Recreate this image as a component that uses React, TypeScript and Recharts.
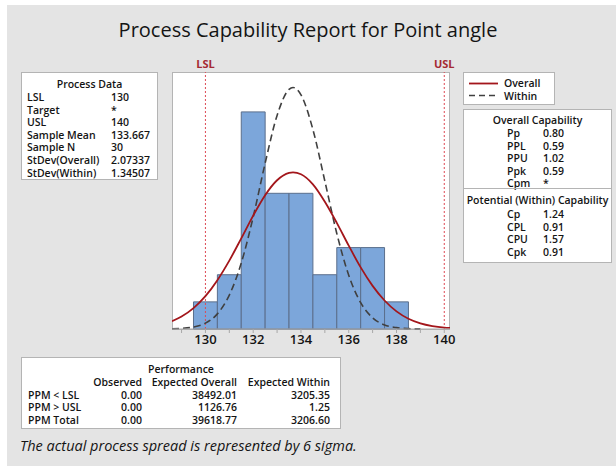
import React from 'react';
import { ComposedChart, Line, XAxis, YAxis, ReferenceArea, ReferenceLine } from 'recharts';

// Histogram bins (centre, count)
const binCenters = [130, 131, 132, 133, 134, 135, 136, 137, 138];
const binCounts = [1, 2, 8, 5, 5, 2, 3, 3, 1];

// Fitted curves (expected counts per bin)
const curveX = [128.6, 129, 129.5, 130, 130.5, 131, 131.5, 132, 132.5, 133, 133.5, 133.667, 134, 134.5, 135, 135.5, 136, 136.5, 137, 137.5, 138, 138.5, 139, 139.5, 140, 140.24];
const overallCurve = [0.29, 0.46, 0.77, 1.21, 1.80, 2.52, 3.34, 4.18, 4.93, 5.48, 5.75, 5.77, 5.70, 5.33, 4.69, 3.91, 3.07, 2.27, 1.59, 1.05, 0.65, 0.38, 0.21, 0.11, 0.054, 0.04];
const withinCurve = [0.007, 0.022, 0.073, 0.217, 0.557, 1.25, 2.43, 4.13, 6.11, 7.87, 8.83, 8.90, 8.63, 7.35, 5.45, 3.52, 1.98, 0.97, 0.41, 0.15, 0.05, 0.014, 0.003, null, null, null];

const xTicks = [129, 130, 131, 132, 133, 134, 135, 136, 137, 138, 139, 140];
const specLimits = [{ name: 'LSL', value: 130 }, { name: 'USL', value: 140 }];

const processLabels = ['LSL', 'Target', 'USL', 'Sample Mean', 'Sample N', 'StDev(Overall)', 'StDev(Within)'];
const processValues = ['130', '*', '140', '133.667', '30', '2.07337', '1.34507'];

const overallCapLabels = ['Pp', 'PPL', 'PPU', 'Ppk', 'Cpm'];
const overallCapValues = ['0.80', '0.59', '1.02', '0.59', '*'];
const withinCapLabels = ['Cp', 'CPL', 'CPU', 'Cpk'];
const withinCapValues = ['1.24', '0.91', '1.57', '0.91'];

const perfColumns = ['Observed', 'Expected Overall', 'Expected Within'];
const perfRows = ['PPM < LSL', 'PPM > USL', 'PPM Total'];
const perfObserved = ['0.00', '0.00', '0.00'];
const perfOverall = ['38492.01', '1126.76', '39618.77'];
const perfWithin = ['3205.35', '1.25', '3206.60'];

const FONT = '"Open Sans", "Noto Sans", sans-serif';
const TXT = '#141414';
const RED = '#a3161b';

const curveData = curveX.map((x, i) => ({ x, overall: overallCurve[i], within: withinCurve[i] }));

const box: React.CSSProperties = {
  position: 'absolute',
  background: '#fff',
  border: '1px solid #b4b4b4',
  boxSizing: 'border-box',
};

const LH = 12.6;
const cell: React.CSSProperties = { position: 'absolute', whiteSpace: 'nowrap', lineHeight: '12px', height: 12 };

export default function App() {
  const lh = LH;
  const fs = 10.5;
  const fw = 600;
  return (
    <div style={{ position: 'absolute', left: 0, top: 0, width: 616, height: 466, background: '#fff', fontFamily: FONT, color: TXT, overflow: 'hidden' }}>
      <div style={{ position: 'absolute', left: 7, top: 5, width: 609, height: 461, background: '#e4e4e4' }} />
      <div style={{ position: 'absolute', left: 0, top: 16, width: 616, textAlign: 'center', fontSize: 20, lineHeight: '28px', fontWeight: 500 }}>
        Process Capability Report for Point angle
      </div>

      {/* plot frame */}
      <div style={{ ...box, left: 172, top: 72, width: 278, height: 258 }} />

      <div style={{ position: 'absolute', left: 0, top: 0 }}>
        <ComposedChart width={616} height={466} data={curveData} margin={{ top: 72, left: 172, right: 166, bottom: 107 }}>
          <XAxis
            type="number"
            dataKey="x"
            domain={[128.6, 140.24]}
            allowDataOverflow
            ticks={xTicks}
            interval={0}
            height={30}
            tickSize={4}
            tickFormatter={(v: number) => (v % 2 === 0 ? String(v) : '')}
            tick={{ fontSize: 13, fill: TXT, fontFamily: FONT, fontWeight: 600 }}
            stroke="#a8a8a8"
          />
          <YAxis hide domain={[0, 9.47]} type="number" />
          {binCenters.map((c, i) => (
            <ReferenceArea
              key={'b' + c}
              x1={c - 0.5}
              x2={c + 0.5}
              y1={0}
              y2={binCounts[i]}
              fill="#7ca6da"
              fillOpacity={1}
              stroke="#5b6f8c"
              strokeWidth={1}
              strokeOpacity={1}
            />
          ))}
          {specLimits.map((s) => (
            <ReferenceLine
              key={s.name}
              x={s.value}
              stroke="#dd4a55"
              strokeWidth={1}
              strokeDasharray="2 2"
              label={{ value: s.name, position: 'top', fill: '#a52a33', fontSize: 11, fontWeight: 700, fontFamily: FONT, offset: 4 }}
            />
          ))}
          <Line type="monotone" dataKey="within" stroke="#404040" strokeWidth={1.6} strokeDasharray="7 4" dot={false} isAnimationActive={false} connectNulls={false} />
          <Line type="monotone" dataKey="overall" stroke={RED} strokeWidth={1.8} dot={false} isAnimationActive={false} />
        </ComposedChart>
      </div>

      {/* Process Data */}
      <div style={{ ...box, left: 21, top: 72, width: 137, height: 108, fontSize: fs, fontWeight: fw }}>
        <div style={{ ...cell, left: 0, top: 5, width: '100%', textAlign: 'center' }}>Process Data</div>
        {processLabels.map((l, i) => (
          <React.Fragment key={l}>
            <span style={{ ...cell, left: 5, top: 18 + i * lh }}>{l}</span>
            <span style={{ ...cell, left: 89, top: 18 + i * lh }}>{processValues[i]}</span>
          </React.Fragment>
        ))}
      </div>

      {/* Legend */}
      <div style={{ ...box, left: 463, top: 72, width: 92, height: 33, fontSize: fs, fontWeight: fw }}>
        <svg width={92} height={33} style={{ position: 'absolute', left: 0, top: 0 }}>
          <line x1={5} x2={34} y1={10.5} y2={10.5} stroke={RED} strokeWidth={1.8} />
          <line x1={5} x2={34} y1={22.5} y2={22.5} stroke="#404040" strokeWidth={1.6} strokeDasharray="6 4" />
        </svg>
        <div style={{ ...cell, left: 40, top: 4 }}>Overall</div>
        <div style={{ ...cell, left: 40, top: 17 }}>Within</div>
      </div>

      {/* Capability */}
      <div style={{ ...box, left: 463, top: 109, width: 149, height: 154, fontSize: fs, fontWeight: fw }}>
        <div style={{ ...cell, left: 0, top: 4, width: '100%', textAlign: 'center' }}>Overall Capability</div>
        {overallCapLabels.map((l, i) => (
          <React.Fragment key={l}>
            <span style={{ ...cell, left: 43, top: 17 + i * lh }}>{l}</span>
            <span style={{ ...cell, left: 79, top: 17 + i * lh }}>{overallCapValues[i]}</span>
          </React.Fragment>
        ))}
        <div style={{ position: 'absolute', left: 0, top: 78, width: '100%', borderTop: '1px solid #b4b4b4' }} />
        <div style={{ ...cell, left: 0, top: 84, width: '100%', textAlign: 'center' }}>Potential (Within) Capability</div>
        {withinCapLabels.map((l, i) => (
          <React.Fragment key={l}>
            <span style={{ ...cell, left: 43, top: 98 + i * lh }}>{l}</span>
            <span style={{ ...cell, left: 79, top: 98 + i * lh }}>{withinCapValues[i]}</span>
          </React.Fragment>
        ))}
      </div>

      {/* Performance */}
      <div style={{ ...box, left: 21, top: 357, width: 320, height: 72, fontSize: fs, fontWeight: fw }}>
        <div style={{ ...cell, left: 0, top: 5, width: '100%', textAlign: 'center' }}>Performance</div>
        <span style={{ ...cell, top: 18, right: 320 - 122 }}>{perfColumns[0]}</span>
        <span style={{ ...cell, top: 18, right: 320 - 217 }}>{perfColumns[1]}</span>
        <span style={{ ...cell, top: 18, right: 320 - 310 }}>{perfColumns[2]}</span>
        {perfRows.map((r, i) => (
          <React.Fragment key={r}>
            <span style={{ ...cell, top: 30.5 + i * lh, left: 6 }}>{r}</span>
            <span style={{ ...cell, top: 30.5 + i * lh, right: 320 - 122 }}>{perfObserved[i]}</span>
            <span style={{ ...cell, top: 30.5 + i * lh, right: 320 - 217 }}>{perfOverall[i]}</span>
            <span style={{ ...cell, top: 30.5 + i * lh, right: 320 - 310 }}>{perfWithin[i]}</span>
          </React.Fragment>
        ))}
      </div>

      <div style={{ position: 'absolute', whiteSpace: 'nowrap', left: 20, top: 436, fontSize: 14.5, fontStyle: 'italic', lineHeight: '20px' }}>
        The actual process spread is represented by 6 sigma.
      </div>
    </div>
  );
}
